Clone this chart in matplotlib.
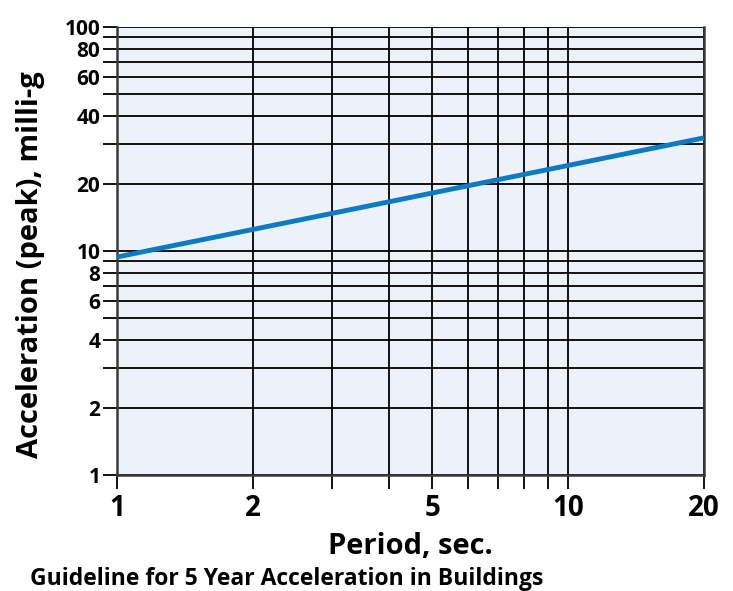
import matplotlib
matplotlib.use("Agg")
import matplotlib.pyplot as plt
from matplotlib.ticker import FixedLocator, NullFormatter, FixedFormatter

period = [1, 20]
accel = [9.4, 32.0]

x_major = [1, 2, 5, 10, 20]
x_major_labels = ["1", "2", "5", "10", "20"]
x_minor = [3, 4, 6, 7, 8, 9]
y_major = [1, 2, 4, 6, 8, 10, 20, 40, 60, 80, 100]
y_major_labels = ["1", "2", "4", "6", "8", "10", "20", "40", "60", "80", "100"]
y_minor = [3, 5, 7, 9, 30, 50, 70, 90]

plt.rcParams['font.family'] = ['Open Sans', 'DejaVu Sans']

fig = plt.figure(figsize=(7.33, 5.91), dpi=100)
ax = fig.add_axes([0.1596, 0.1963, 0.8008, 0.758])
ax.set_facecolor('#edf1f9')
ax.set_xscale('log')
ax.set_yscale('log')
ax.set_xlim(1, 20)
ax.set_ylim(1, 100)

ax.xaxis.set_major_locator(FixedLocator(x_major))
ax.xaxis.set_major_formatter(FixedFormatter(x_major_labels))
ax.xaxis.set_minor_locator(FixedLocator(x_minor))
ax.xaxis.set_minor_formatter(NullFormatter())
ax.yaxis.set_major_locator(FixedLocator(y_major))
ax.yaxis.set_major_formatter(FixedFormatter(y_major_labels))
ax.yaxis.set_minor_locator(FixedLocator(y_minor))
ax.yaxis.set_minor_formatter(NullFormatter())

ax.grid(True, which='both', color='black', linewidth=1.3)
ax.set_axisbelow(True)

ax.plot(period, accel, color='#0a7bc4', linewidth=3.5, solid_capstyle='butt', zorder=5)

for s in ['left', 'bottom', 'right']:
    ax.spines[s].set_color('#3a3a3a')
    ax.spines[s].set_linewidth(1.8)
ax.spines['top'].set_visible(False)

ax.tick_params(axis='both', which='both', length=10, width=1.3, color='black', direction='out')
ax.tick_params(axis='x', which='major', labelsize=20, pad=4)
ax.tick_params(axis='y', which='major', labelsize=15, pad=2)
for lab in ax.get_xticklabels() + ax.get_yticklabels():
    lab.set_fontweight('bold')

ax.set_xlabel('Period, sec.', fontsize=21, fontweight='bold', labelpad=6)
ax.set_ylabel('Acceleration (peak), milli-g', fontsize=21, fontweight='bold')
ax.yaxis.set_label_coords(-0.123, 0.47)

fig.text(0.041, 0.01, 'Guideline for 5 Year Acceleration in Buildings', fontsize=16.5, fontweight='bold', ha='left', va='baseline')

fig.savefig('out.png', dpi=100)
